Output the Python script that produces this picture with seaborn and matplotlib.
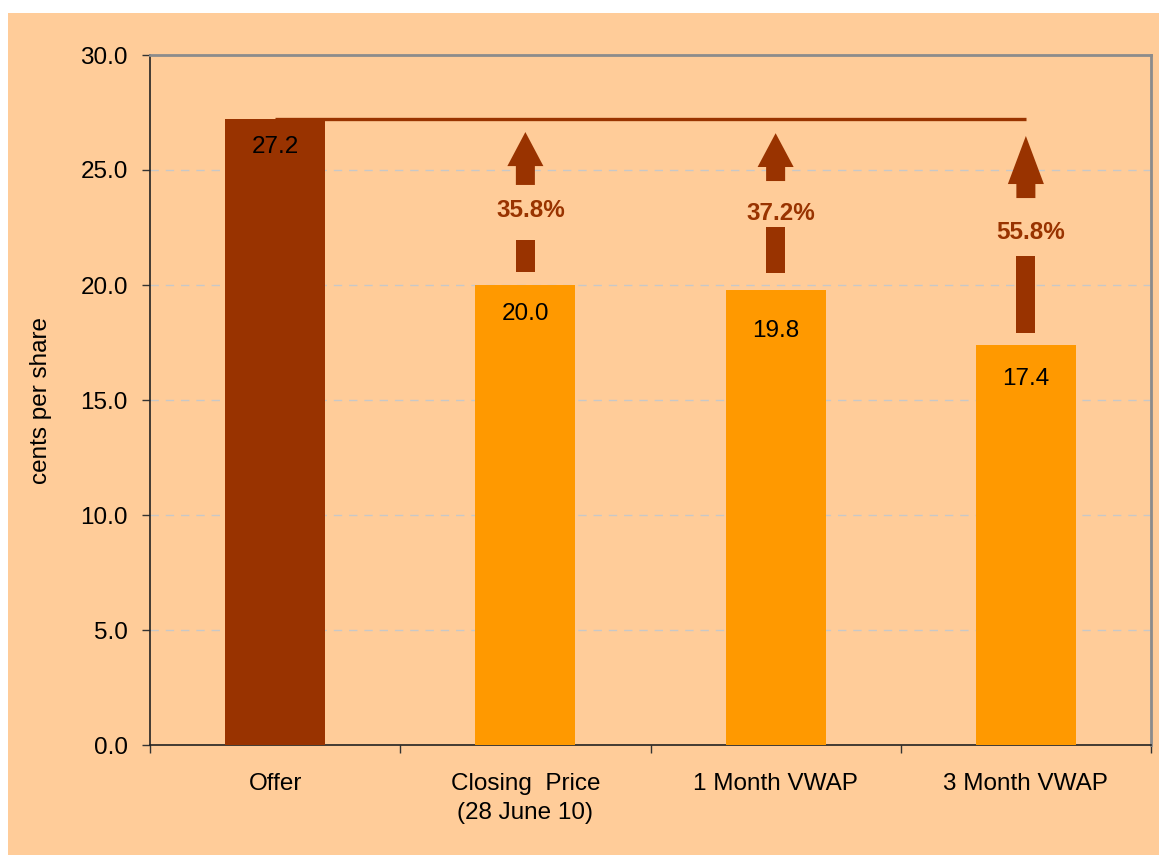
import matplotlib
matplotlib.use("Agg")
import matplotlib.pyplot as plt
import seaborn as sns
import pandas as pd
from matplotlib.patches import Polygon, Rectangle

# ---- data ----
categories = ["Offer", "Closing  Price\n(28 June 10)", "1 Month VWAP", "3 Month VWAP"]
values = [27.2, 20.0, 19.8, 17.4]
premiums = ["35.8%", "37.2%", "55.8%"]
yticks = [0.0, 5.0, 10.0, 15.0, 20.0, 25.0, 30.0]

# ---- layout (style/positions only) ----
bar_colors = ["#993300", "#FF9900", "#FF9900", "#FF9900"]
label_offsets_pt = [-20, -21, -29.5, -24.5]
# arrow geometry per compared bar: (tip, head_base, shaft_bottom, lower_top, lower_bottom, text_y)
arrow_layout = [
    (26.65, 25.17, 24.35, 21.96, 20.57, 23.26),
    (26.60, 25.13, 24.52, 22.52, 20.52, 23.13),
    (26.48, 24.39, 23.78, 21.26, 17.91, 22.30),
]
head_hw = 0.072
shaft_hw = 0.038
dark = "#993300"

sns.set_theme(style="white")
plt.rcParams["font.family"] = ["Liberation Sans", "DejaVu Sans"]

fig = plt.figure(figsize=(11.59, 8.55), dpi=100, facecolor="white")
fig.patches.append(Rectangle((8 / 1159, 0), 1, (855 - 13) / 855, transform=fig.transFigure,
                             facecolor="#FFCC99", edgecolor="none", zorder=-10))
ax = fig.add_axes([150 / 1159, 110 / 855, 1001 / 1159, 690 / 855])
ax.set_zorder(1)
ax.set_facecolor("#FFCC99")

df = pd.DataFrame({"cat": categories, "val": values})
sns.barplot(data=df, x="cat", y="val", hue="cat", palette=bar_colors, order=categories,
            width=0.4, saturation=1, legend=False, ax=ax, zorder=3, linewidth=0)

ax.set_xlim(-0.5, 3.5)
ax.set_ylim(0, 30)
ax.set_yticks(yticks)
ax.set_yticklabels([f"{t:.1f}" for t in yticks], fontsize=17.5, color="black")
ax.set_ylabel("cents per share", fontsize=17.5, color="black", labelpad=20)
ax.set_xlabel("")

# gridlines
for t in yticks[1:-1]:
    ax.axhline(t, color="#C8C8C8", lw=1.0, ls=(0, (6, 5)), zorder=1)

# x ticks at category boundaries, labels at centers
ax.set_xticks([-0.5, 0.5, 1.5, 2.5, 3.5])
ax.set_xticklabels([])
ax.set_xticks([0, 1, 2, 3], minor=True)
ax.set_xticklabels(categories, minor=True, fontsize=17.5, color="black", linespacing=1.45)
ax.tick_params(axis="x", which="major", length=6, width=1, color="#333333", direction="out", bottom=True)
ax.tick_params(axis="x", which="minor", length=0, pad=20)
ax.tick_params(axis="y", length=6, width=1, color="#333333", direction="out", left=True, pad=10)

for side in ["left", "bottom"]:
    ax.spines[side].set_color("#222222")
    ax.spines[side].set_linewidth(1.2)
for side in ["top", "right"]:
    ax.spines[side].set_color("#8C8C8C")
    ax.spines[side].set_linewidth(2.0)
    ax.spines[side].set_visible(True)

# value labels
for i, (v, off) in enumerate(zip(values, label_offsets_pt)):
    ax.annotate(f"{v:.1f}", xy=(i, v), xytext=(0, off), textcoords="offset points",
                ha="center", va="center", fontsize=17.5, color="black", zorder=5)

# offer reference line
ax.hlines(values[0], 0, len(values) - 1, color=dark, lw=2.4, zorder=4)

# arrows with premium text
for k, (lay, txt) in enumerate(zip(arrow_layout, premiums)):
    x = k + 1
    tip, hb, sb, lt, lb, ty = lay
    head = Polygon([(x - head_hw, hb), (x, tip), (x + head_hw, hb),
                    (x + shaft_hw, hb), (x + shaft_hw, sb), (x - shaft_hw, sb),
                    (x - shaft_hw, hb)], closed=True, facecolor=dark, edgecolor="none", zorder=4)
    ax.add_patch(head)
    lower = Rectangle((x - shaft_hw, lb), 2 * shaft_hw, lt - lb, facecolor=dark,
                      edgecolor="none", zorder=4)
    ax.add_patch(lower)
    ax.text(x + 0.02, ty, txt, ha="center", va="center", fontsize=17.5,
            fontweight="bold", color=dark, zorder=5)

fig.savefig("out.png", dpi=100, facecolor=fig.get_facecolor())
